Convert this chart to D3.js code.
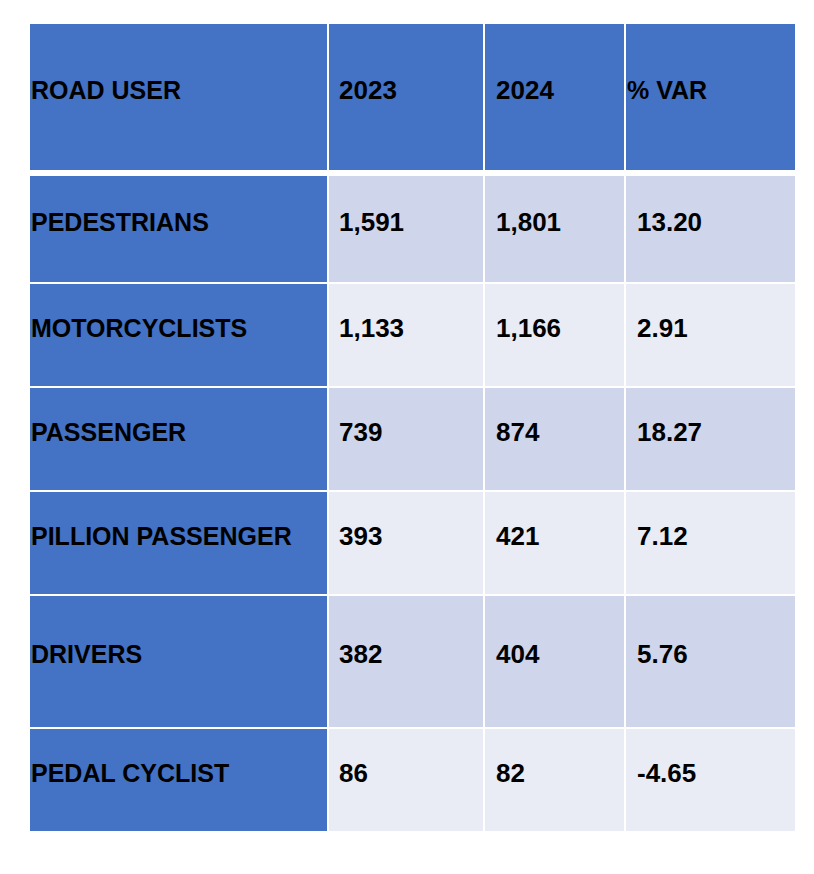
<!DOCTYPE html>
<html>
<head>
<meta charset="utf-8">
<script src="https://cdn.jsdelivr.net/npm/d3@7"></script>
<style>
    body { margin: 0; background: #fff; }
    text { font-family: "Liberation Sans", Arial, sans-serif; font-weight: bold; fill: #000; }
</style>
</head>
<body>
<div id="table-area"></div>
<script>
// table contents
var headers = ["ROAD USER", "2023", "2024", "% VAR"];
var roadUsers = ["PEDESTRIANS", "MOTORCYCLISTS", "PASSENGER", "PILLION PASSENGER", "DRIVERS", "PEDAL CYCLIST"];
var deaths2023 = [1591, 1133, 739, 393, 382, 86];
var deaths2024 = [1801, 1166, 874, 421, 404, 82];
var pctVar = [13.20, 2.91, 18.27, 7.12, 5.76, -4.65];

var width = 814,
    height = 874;

// layout: column edges and row heights, measured off the slide
var colEdges = [30, 329, 485, 626, 797];
var headerTop = 24, headerHeight = 146, headerGap = 6;
var rowHeights = [106, 102, 102, 102, 131, 102];
var gap = 2;

var blue = "#4472C4",
    bandDark = "#CFD5EA",
    bandLight = "#E9EBF5";

var svg = d3.select("#table-area").append("svg")
    .attr("width", width)
    .attr("height", height);

// row y positions
var rowTops = [];
var y = headerTop + headerHeight + headerGap;
rowHeights.forEach(function(h) {
    rowTops.push(y);
    y += h + gap;
});

var fmt = d3.format(",");

var rows = roadUsers.map(function(name, i) {
    return {
        // plain hyphen for negatives, like the slide (d3.format gives a unicode minus)
        cells: [name, fmt(deaths2023[i]), fmt(deaths2024[i]), pctVar[i].toFixed(2)],
        top: rowTops[i],
        h: rowHeights[i],
        band: i % 2 === 0 ? bandDark : bandLight
    };
});

function colX(j) { return colEdges[j]; }
function colW(j) { return colEdges[j + 1] - colEdges[j] - gap; }

// header
var head = svg.append("g").attr("class", "header");
head.selectAll("rect")
    .data(headers)
    .enter().append("rect")
    .attr("x", function(d, j) { return colX(j); })
    .attr("y", headerTop)
    .attr("width", function(d, j) { return colW(j); })
    .attr("height", headerHeight)
    .attr("fill", blue);

var headPad = [1, 10, 11, 1];
head.selectAll("text")
    .data(headers)
    .enter().append("text")
    .attr("x", function(d, j) { return colX(j) + headPad[j]; })
    .attr("y", headerTop + headerHeight / 2 + 2)
    .style("font-size", function(d, j) { return j === 0 || j === 3 ? "25px" : "26px"; })
    .text(function(d) { return d; });

// body rows
var rowG = svg.selectAll(".row")
    .data(rows)
    .enter().append("g")
    .attr("class", "row")
    .attr("transform", function(d) { return "translate(0," + d.top + ")"; });

var cellPad = [1, 10, 11, 11];

rowG.selectAll("rect")
    .data(function(d) { return d.cells.map(function(c) { return {v: c, row: d}; }); })
    .enter().append("rect")
    .attr("x", function(d, j) { return colX(j); })
    .attr("y", 0)
    .attr("width", function(d, j) { return colW(j); })
    .attr("height", function(d) { return d.row.h; })
    .attr("fill", function(d, j) { return j === 0 ? blue : d.row.band; });

rowG.selectAll("text")
    .data(function(d) { return d.cells.map(function(c) { return {v: c, row: d}; }); })
    .enter().append("text")
    .attr("x", function(d, j) { return colX(j) + cellPad[j]; })
    .attr("y", function(d) { return d.row.h / 2 + 1.5; })
    .style("font-size", function(d, j) { return j === 0 ? "25px" : "26px"; })
    .text(function(d) { return d.v; });
</script>
</body>
</html>
